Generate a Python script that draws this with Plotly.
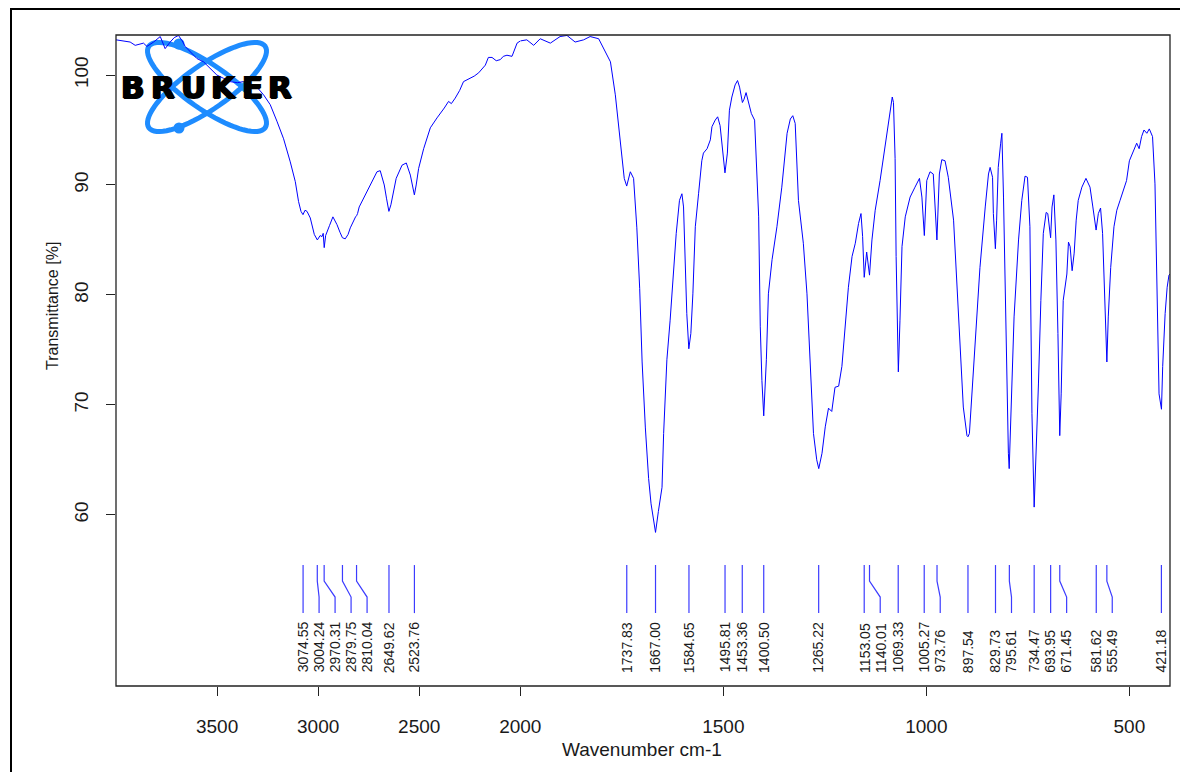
import numpy as np
import plotly.graph_objects as go

# ---------------- data ----------------
wavenumber = [
    4000, 3930, 3905, 3864, 3847, 3814, 3781, 3757, 3732, 3712, 3691, 3672, 3658, 3633, 3600, 3567,
    3534, 3501, 3468, 3435, 3400, 3369, 3335, 3303, 3270, 3237, 3204, 3171, 3138, 3113, 3097, 3085,
    3075, 3065, 3055, 3039, 3019, 3004, 2990, 2981, 2975, 2970, 2963, 2956, 2944, 2927, 2907, 2892,
    2880, 2866, 2852, 2841, 2824, 2815, 2810, 2805, 2797, 2775, 2742, 2709, 2693, 2673, 2662, 2650,
    2640, 2633, 2614, 2585, 2564, 2544, 2535, 2524, 2515, 2503, 2478, 2445, 2412, 2387, 2376, 2355,
    2341, 2322, 2300, 2281, 2247, 2228, 2206, 2173, 2158, 2140, 2119, 2099, 2084, 2066, 2041, 2016,
    2000,
    1984, 1967, 1951, 1926, 1902, 1885, 1865, 1844, 1828, 1807, 1791, 1778, 1766, 1754, 1744, 1738,
    1733, 1729, 1721, 1713, 1706, 1700, 1692, 1684, 1678, 1672, 1667, 1660, 1655, 1651, 1647, 1639,
    1631, 1623, 1616, 1608, 1602, 1598, 1594, 1590, 1585, 1580, 1575, 1569, 1561, 1553, 1549, 1540,
    1532, 1528, 1520, 1514, 1508, 1504, 1496, 1490, 1485, 1479, 1471, 1465, 1460, 1453, 1449, 1444,
    1438, 1431, 1423, 1417, 1413, 1409, 1405, 1400.5, 1394, 1389, 1380, 1368, 1356, 1343, 1335, 1329,
    1323, 1315, 1303, 1294, 1286, 1278, 1270, 1265, 1257, 1249, 1241, 1233, 1225, 1216, 1208, 1200,
    1192, 1183, 1175, 1167, 1161, 1157, 1153, 1147, 1140, 1134, 1126, 1114, 1106, 1097, 1089, 1084,
    1081, 1077, 1074.5, 1069, 1065, 1060, 1052, 1040, 1028, 1017, 1011, 1005, 999, 991, 983, 976,
    974, 968, 962, 954, 946, 933, 925, 917, 909, 900, 897.5, 894, 884, 876, 868, 855,
    847, 843, 837, 835, 830, 827, 823, 817, 814, 810, 806, 802, 798, 796, 790, 784,
    773, 765, 757, 751, 745, 740, 734.5, 730, 724, 718, 712, 705, 701, 694, 690.5, 686,
    681, 676, 671.5, 668, 663, 654, 650, 646, 641, 636, 631, 626, 617, 607, 597, 590,
    582, 576.5, 571, 566, 560, 555.5, 552, 546, 538, 531, 523, 515, 507, 500, 490, 482,
    476, 470, 464, 457, 451, 443, 437, 433, 427, 421, 418, 412, 407, 402.5, 400,
]
transmittance = [
    103.2, 103.0, 102.7, 102.9, 102.6, 103.0, 103.5, 102.4, 103.0, 103.4, 103.6, 103.1, 102.6, 102.1, 101.5, 101.2,
    100.6, 100.0, 99.7, 99.4, 99.3, 99.4, 99.2, 98.9, 98.2, 97.3, 95.8, 94.2, 92.1, 90.3, 88.5, 87.6,
    87.3, 87.7, 87.6, 87.0, 85.5, 85.0, 85.4, 85.3, 85.6, 84.3, 85.4, 85.8, 86.3, 87.1, 86.4, 85.7,
    85.2, 85.1, 85.5, 86.1, 86.8, 87.1, 87.2, 87.4, 88.0, 88.8, 90.0, 91.2, 91.3, 90.0, 88.8, 87.6,
    88.2, 88.8, 90.6, 91.8, 92.0, 90.9, 90.0, 89.1, 90.0, 91.5, 93.3, 95.2, 96.1, 96.7, 97.0, 97.6,
    97.4, 97.9, 98.6, 99.4, 99.7, 99.9, 100.2, 100.9, 101.6, 101.6, 101.3, 101.4, 101.7, 101.8, 101.7, 102.9,
    103.1,
    103.2, 102.7, 103.3, 102.9, 103.5, 103.6, 103.0, 103.2, 103.5, 103.3, 102.1, 101.2, 98.2, 94.2, 90.6, 89.9,
    90.7, 91.2, 90.6, 86.1, 80.6, 73.9, 67.9, 63.3, 61.0, 59.4, 58.4, 60.3, 61.8, 62.5, 67.4, 74.1,
    77.7, 82.5, 85.6, 88.6, 89.2, 88.0, 83.2, 78.3, 75.1, 76.5, 80.1, 86.2, 89.2, 92.2, 92.9, 93.3,
    94.1, 95.3, 95.9, 96.2, 95.4, 93.8, 91.1, 92.9, 96.8, 98.0, 99.1, 99.5, 98.9, 97.5, 97.8, 98.4,
    97.4, 96.5, 95.9, 91.0, 87.1, 77.1, 72.2, 69.0, 74.1, 80.1, 83.2, 86.2, 89.8, 94.7, 96.0, 96.3,
    95.6, 88.6, 84.7, 80.1, 74.1, 67.4, 65.0, 64.2, 65.6, 68.0, 69.7, 69.4, 71.6, 71.7, 73.5, 77.1,
    80.7, 83.5, 84.7, 86.5, 87.4, 85.3, 81.6, 83.9, 81.8, 85.0, 87.7, 90.4, 92.5, 95.0, 97.1, 98.0,
    97.5, 92.4, 83.5, 73.0, 77.7, 84.4, 87.1, 88.9, 89.8, 90.6, 88.9, 85.4, 90.4, 91.2, 91.0, 86.8,
    85.0, 91.0, 92.3, 92.2, 90.7, 86.8, 81.3, 75.3, 69.8, 67.2, 67.1, 67.4, 72.9, 78.3, 82.5, 88.0,
    91.0, 91.6, 90.7, 87.4, 84.2, 86.8, 91.6, 93.8, 94.7, 88.9, 79.8, 72.2, 65.6, 64.2, 71.0, 78.0,
    85.0, 88.6, 90.8, 90.7, 86.2, 69.2, 60.7, 65.0, 71.9, 79.5, 85.6, 87.5, 87.4, 85.2, 88.0, 89.1,
    85.0, 76.5, 67.2, 71.0, 79.5, 81.9, 84.8, 84.4, 82.2, 83.8, 86.8, 88.6, 89.8, 90.6, 89.8, 88.0,
    85.9, 87.4, 87.9, 85.6, 79.5, 73.9, 78.0, 82.5, 86.2, 87.7, 88.6, 89.5, 90.4, 92.2, 93.0, 93.8,
    93.3, 94.4, 95.0, 94.7, 95.1, 94.4, 90.1, 82.5, 71.0, 69.6, 73.5, 78.3, 80.7, 81.8, 81.9,
]
peak_wavenumbers = [
    3074.55, 3004.24, 2970.31, 2879.75, 2810.04, 2649.62, 2523.76,
    1737.83, 1667.00, 1584.65, 1495.81, 1453.36, 1400.50, 1265.22,
    1153.05, 1140.01, 1069.33, 1005.27, 973.76, 897.54, 829.73, 795.61,
    734.47, 693.95, 671.45, 581.62, 555.49, 421.18,
]
x_ticks_high = [3500, 3000, 2500, 2000]
x_ticks_low = [1500, 1000, 500]
y_ticks = [60, 70, 80, 90, 100]

# ---------------- layout constants (page pixels; page has an 8px body margin) ----------------
OFF = 8
FIG_W, FIG_H = 1172, 764          # fits inside the window without scrollbars
PLOT_L, PLOT_R, PLOT_T, PLOT_B = 116, 1170, 35, 686      # plot box in page pixels
ML = PLOT_L - OFF
MT = PLOT_T - OFF
MR = FIG_W - (PLOT_R - OFF)
MB = FIG_H - (PLOT_B - OFF)
PW = PLOT_R - PLOT_L
PH = PLOT_B - PLOT_T
SPLIT = 404.3 / PW          # share of width for 4000-2000 (half scale)
X_HIGH = [4000, 2000]
X_LOW = [2000, 400]
Y_RANGE = [44.43, 103.64]

BLUE = "#0000ff"
PEAK_BLUE = "#3c3cff"
TXT = "#1a1a1a"
FONT = "Liberation Sans, Arial, sans-serif"

# peak marker geometry (transmittance units)
Y_TOP, Y_K1, Y_K2, Y_BOT = 55.43, 53.97, 52.52, 51.06
Y_LABEL = 45.55
MIN_GAP_PX = 16.0


def wn_to_px(w):
    if w >= 2000:
        return PLOT_L + (X_HIGH[0] - w) / (X_HIGH[0] - X_HIGH[1]) * SPLIT * PW
    return PLOT_L + SPLIT * PW + (X_LOW[0] - w) / (X_LOW[0] - X_LOW[1]) * (1 - SPLIT) * PW


def px_to_wn(px):
    split_px = PLOT_L + SPLIT * PW
    if px <= split_px:
        return X_HIGH[0] - (px - PLOT_L) / (SPLIT * PW) * (X_HIGH[0] - X_HIGH[1])
    return X_LOW[0] - (px - split_px) / ((1 - SPLIT) * PW) * (X_LOW[0] - X_LOW[1])


def px2paper_x(px):
    return (px - PLOT_L) / PW


def px2paper_y(py):
    return (PLOT_B - py) / PH


wn = np.array(wavenumber, dtype=float)
tr = np.array(transmittance, dtype=float)
hi = wn >= 2000
lo = wn <= 2000

fig = go.Figure()
fig.add_trace(go.Scatter(x=wn[hi], y=tr[hi], mode="lines", xaxis="x", yaxis="y",
                         line=dict(color=BLUE, width=1), hoverinfo="skip", showlegend=False))
fig.add_trace(go.Scatter(x=wn[lo], y=tr[lo], mode="lines", xaxis="x2", yaxis="y",
                         line=dict(color=BLUE, width=1), hoverinfo="skip", showlegend=False))

# peak markers with label de-overlap
peaks_sorted = sorted(peak_wavenumbers, reverse=True)
prev = -1e9
lines = {"x": ([], []), "x2": ([], [])}
annotations = []
for p in peaks_sorted:
    ppx = wn_to_px(p)
    lpx = max(ppx, prev + MIN_GAP_PX)
    prev = lpx
    lw = px_to_wn(lpx)
    ax = "x" if p >= 2000 else "x2"
    xs, ys = lines[ax]
    xs += [p, p, lw, lw, None]
    ys += [Y_TOP, Y_K1, Y_K2, Y_BOT, None]
    annotations.append(dict(text=f"{p:.2f}", x=lw, y=Y_LABEL, xref=ax, yref="y",
                            textangle=-90, xanchor="center", yanchor="bottom",
                            showarrow=False, borderpad=0,
                            font=dict(family=FONT, size=14, color=TXT)))
for ax, (xs, ys) in lines.items():
    fig.add_trace(go.Scatter(x=xs, y=ys, mode="lines", xaxis=ax, yaxis="y",
                             line=dict(color=PEAK_BLUE, width=1.2), hoverinfo="skip",
                             showlegend=False))

# axis titles
annotations.append(dict(text="Wavenumber cm-1", x=px2paper_x(642), y=px2paper_y(749),
                        xref="paper", yref="paper", showarrow=False,
                        xanchor="center", yanchor="middle",
                        font=dict(family=FONT, size=19, color=TXT)))
annotations.append(dict(text="Transmittance [%]", x=px2paper_x(52), y=px2paper_y(306),
                        xref="paper", yref="paper", showarrow=False, textangle=-90,
                        xanchor="center", yanchor="middle",
                        font=dict(family=FONT, size=16, color=TXT)))

# BRUKER logo (decoration, pixel geometry relative to plot top-left)
LOGO_BLUE = "#1e8cff"
shapes = []
cx, cy = 207, 87
t = np.linspace(0, 2 * np.pi, 73)
for th in (np.deg2rad(35), np.deg2rad(-35)):
    a, b = 71, 22
    X = cx + a * np.cos(t) * np.cos(th) - b * np.sin(t) * np.sin(th)
    Y = cy + a * np.cos(t) * np.sin(th) + b * np.sin(t) * np.cos(th)
    dx = X - PLOT_L
    dy = PLOT_T - Y
    path = "M " + " L ".join(f"{u:.2f},{v:.2f}" for u, v in zip(dx, dy)) + " Z"
    shapes.append(dict(type="path", path=path, xref="paper", yref="paper",
                       xsizemode="pixel", ysizemode="pixel", xanchor=0, yanchor=1,
                       line=dict(color=LOGO_BLUE, width=5), layer="below"))
for (dxp, dyp) in ((179, 44), (179, 128)):
    r = 5.5
    shapes.append(dict(type="circle", xref="paper", yref="paper",
                       xsizemode="pixel", ysizemode="pixel", xanchor=0, yanchor=1,
                       x0=dxp - PLOT_L - r, x1=dxp - PLOT_L + r,
                       y0=PLOT_T - dyp - r, y1=PLOT_T - dyp + r,
                       fillcolor=LOGO_BLUE, line=dict(color=LOGO_BLUE, width=0), layer="below"))
for ch, xc in zip("BRUKER", [133, 163, 193, 223, 252, 280]):
    annotations.append(dict(text=f"<b>{ch}</b>", x=px2paper_x(xc), y=px2paper_y(87),
                            xref="paper", yref="paper", showarrow=False,
                            xanchor="center", yanchor="middle",
                            font=dict(family="DejaVu Sans", size=31, color="#000000",
                                      shadow="1px 0 0 #000, -1px 0 0 #000, 0 1px 0 #000")))

# plot frame and outer frame
shapes.append(dict(type="rect", xref="paper", yref="paper", x0=0, x1=1, y0=0, y1=1,
                   line=dict(color="#222222", width=1.3), layer="above"))
shapes.append(dict(type="path", xref="paper", yref="paper",
                   path=f"M {px2paper_x(11)},{px2paper_y(800)} L {px2paper_x(11)},{px2paper_y(9)} "
                        f"L {px2paper_x(1200)},{px2paper_y(9)}",
                   line=dict(color="#000000", width=2), layer="above"))

axis_common = dict(showgrid=False, zeroline=False, showline=False, ticks="outside",
                   ticklen=9, tickwidth=1, tickcolor="#222222", automargin=False,
                   tickfont=dict(family=FONT, size=19, color=TXT))
fig.update_layout(
    width=FIG_W, height=FIG_H, autosize=False,
    margin=dict(l=ML, r=MR, t=MT, b=MB, pad=0, autoexpand=False),
    paper_bgcolor="white", plot_bgcolor="white",
    showlegend=False,
    xaxis=dict(domain=[0, SPLIT], range=X_HIGH, tickvals=x_ticks_high, anchor="y",
               ticklabelstandoff=14, **axis_common),
    xaxis2=dict(domain=[SPLIT, 1], range=X_LOW, tickvals=x_ticks_low, anchor="y",
                ticklabelstandoff=14, **axis_common),
    yaxis=dict(range=Y_RANGE, tickvals=y_ticks, tickangle=-90, ticklabelstandoff=10,
               **axis_common),
    shapes=shapes,
    annotations=annotations,
)

fig.write_html("out.html")
